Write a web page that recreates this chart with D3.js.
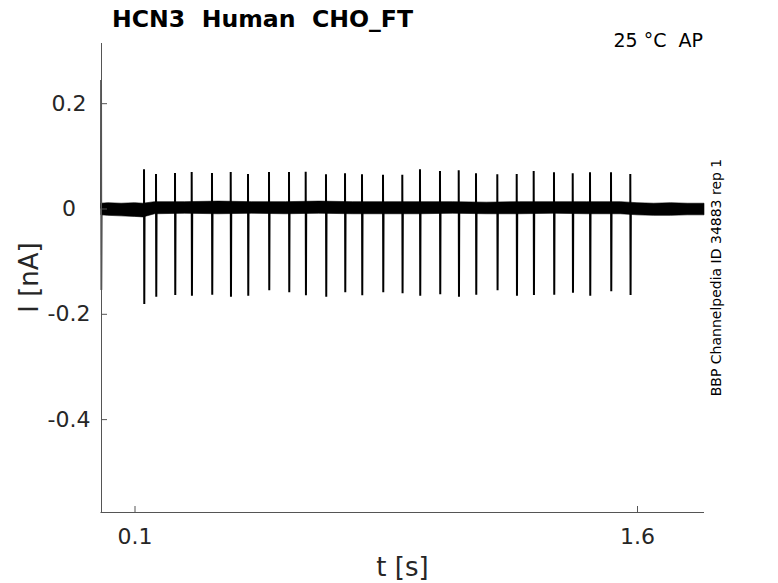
<!DOCTYPE html>
<html><head><meta charset="utf-8">
<script src="https://cdn.jsdelivr.net/npm/d3@7"></script>
<style>body{margin:0;background:#fff} svg{display:block;font-family:"DejaVu Sans",sans-serif}</style>
</head><body>
<svg id="c" width="778" height="583"></svg>
<script>
// ---- data ----
const titleText = "HCN3  Human  CHO_FT";
const condText = "25 °C  AP";
const sideText = "BBP Channelpedia ID 34883 rep 1";
const xLabel = "t [s]";
const yLabel = "I [nA]";
const xTicks = [0.1, 1.6];
const yTicks = [0.2, 0, -0.2, -0.4];
const xDomain = [0, 1.8];
const yDomain = [-0.5764, 0.3143];

// spike (action-potential evoked current) times [s], peaks and troughs [nA]
const spikeTimes = [0.1284,0.1642,0.2209,0.2707,0.3313,0.3872,0.4388,0.5015,0.5612,
  0.6110,0.6716,0.7284,0.7791,0.8418,0.8994,0.9522,1.0119,1.0678,1.1194,1.1830,
  1.2409,1.2916,1.3522,1.4081,1.4597,1.5224,1.5800];
const spikePeaks = [0.0745,0.0655,0.0674,0.0693,0.0674,0.0693,0.0655,0.0693,0.0693,
  0.0699,0.0650,0.0669,0.0650,0.0642,0.0642,0.0745,0.0712,0.0726,0.0669,0.0650,
  0.0655,0.0712,0.0688,0.0669,0.0688,0.0688,0.0655];
const spikeTroughs = [-0.1814,-0.1675,-0.1643,-0.1656,-0.1637,-0.1675,-0.1656,-0.1554,-0.1592,
  -0.1649,-0.1675,-0.1592,-0.1649,-0.1592,-0.1611,-0.1656,-0.1630,-0.1675,-0.1637,-0.1554,
  -0.1656,-0.1643,-0.1637,-0.1599,-0.1656,-0.1573,-0.1643];

// initial capacitive transient
const transientT = [0.0003, 0.0006, 0.0012, 0.0020];
const transientV = [0, 0.244, -0.155, 0];

// envelope of the noisy baseline [nA]
const envT  = [0,0.02,0.06,0.10,0.125,0.16,0.25,0.35,0.45,0.55,0.65,0.75,0.85,0.95,1.05,1.15,1.25,1.35,1.45,1.55,1.60,1.65,1.70,1.75,1.80];
const envHi = [0.010,0.011,0.010,0.011,0.010,0.013,0.013,0.014,0.013,0.013,0.014,0.013,0.013,0.013,0.013,0.012,0.013,0.013,0.013,0.013,0.011,0.010,0.011,0.010,0.010];
const envLo = [-0.012,-0.013,-0.014,-0.015,-0.016,-0.010,-0.009,-0.010,-0.009,-0.010,-0.009,-0.010,-0.010,-0.010,-0.009,-0.010,-0.010,-0.009,-0.010,-0.010,-0.012,-0.013,-0.013,-0.012,-0.012];

// ---- drawing ----
const svg = d3.select("#c");
const L = 101, R = 704, T = 43, B = 512;
const x = d3.scaleLinear().domain(xDomain).range([L, R]);
const y = d3.scaleLinear().domain(yDomain).range([B, T]);
const axisCol = "#262626";

// baseline noise band
const env = envT.map((t, i) => ({t, hi: envHi[i], lo: envLo[i]}));
svg.append("path").datum(env)
  .attr("d", d3.area().x(d => x(d.t)).y0(d => y(d.lo)).y1(d => y(d.hi)))
  .attr("fill", "#000").attr("stroke", "#000").attr("stroke-width", 0.6);

// spikes
const line = d3.line().x(d => x(d[0])).y(d => y(d[1]));
const spikes = spikeTimes.map((t, i) => [[t, 0], [t, spikePeaks[i]], [t + 0.0008, spikeTroughs[i]], [t + 0.0016, 0]]);
svg.append("g").selectAll("path").data(spikes).join("path")
  .attr("d", line).attr("fill", "none").attr("stroke", "#000").attr("stroke-width", 2);

// transient
svg.append("path").datum(transientT.map((t, i) => [t, transientV[i]]))
  .attr("d", line).attr("fill", "none").attr("stroke", "#000").attr("stroke-width", 1.6);

// axes
const fmt = d => d === 0 ? "0" : String(d).replace("\u2212", "-");
const gx = svg.append("g").attr("transform", `translate(0,${B})`)
  .call(d3.axisBottom(x).tickValues(xTicks).tickSize(-6).tickPadding(16).tickSizeOuter(0).tickFormat(fmt));
const gy = svg.append("g").attr("transform", `translate(${L},0)`)
  .call(d3.axisLeft(y).tickValues(yTicks).tickSize(-6).tickSizeOuter(0).tickFormat(fmt));
gy.selectAll(".tick text").attr("text-anchor", "middle").attr("x", -32);
[gx, gy].forEach(g => {
  g.select(".domain").attr("stroke", "#555").attr("stroke-width", 1);
  g.selectAll(".tick line").attr("stroke", "#555");
  g.selectAll(".tick text").attr("fill", axisCol).attr("font-size", 22).attr("font-family", "DejaVu Sans");
});
gx.select(".domain").attr("d", `M${L - 0.5},0.5H${R}`);
gy.select(".domain").attr("d", `M0.5,${T}V${B}`);

// labels
svg.append("text").attr("x", (L + R) / 2).attr("y", 576).attr("text-anchor", "middle")
  .attr("font-size", 26).attr("fill", axisCol).text(xLabel);
svg.append("text").attr("transform", `translate(38,${(T + B) / 2}) rotate(-90)`).attr("text-anchor", "middle")
  .attr("font-size", 26).attr("fill", axisCol).text(yLabel);
svg.append("text").attr("x", 112).attr("y", 27).attr("font-size", 23.6).attr("font-weight", "bold")
  .attr("fill", "#000").style("white-space", "pre").text(titleText);
svg.append("text").attr("x", 703).attr("y", 47).attr("text-anchor", "end").attr("font-size", 19)
  .attr("fill", "#000").style("white-space", "pre").text(condText);
svg.append("text").attr("transform", `translate(721,${(T + B) / 2}) rotate(-90)`).attr("text-anchor", "middle")
  .attr("font-size", 14).attr("fill", "#000").text(sideText);
</script>
</body></html>
